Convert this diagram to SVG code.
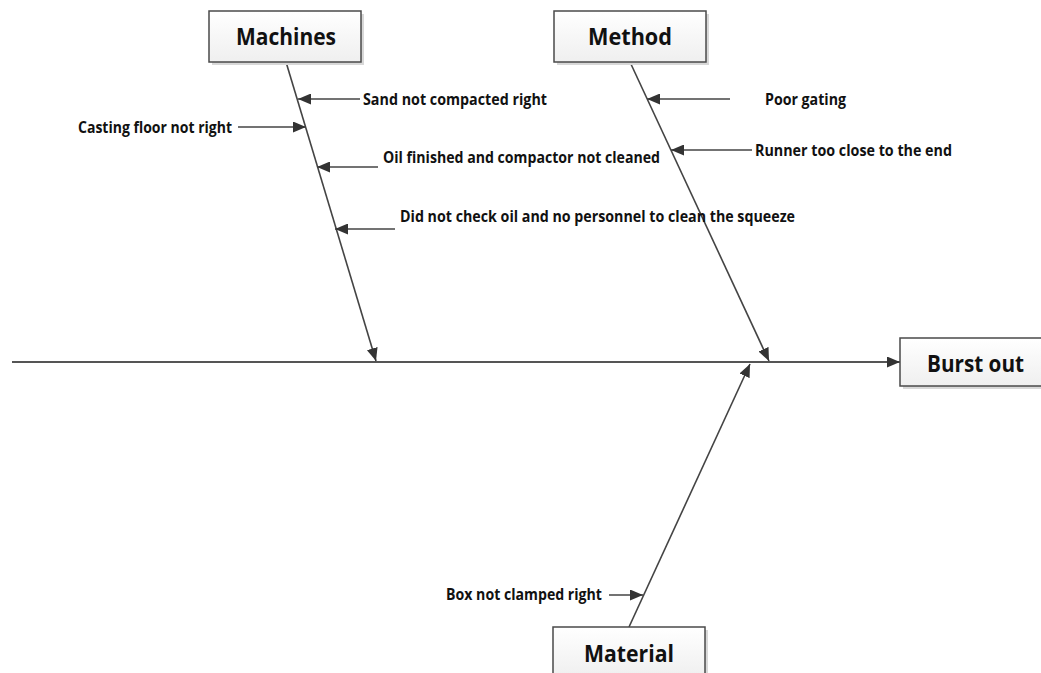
<svg xmlns="http://www.w3.org/2000/svg" width="1041" height="673" viewBox="0 0 1041 673">
  <style>
    .box { fill: url(#boxFill); stroke: #4a4a4a; stroke-width: 1.5; }
    .shadow { fill: #d8d8d8; }
    .title { font-family: "Open Sans", "Liberation Sans", sans-serif; font-weight: 700; font-size: 23px; fill: #111; dominant-baseline: central; }
    .cause { font-family: "Open Sans", "Liberation Sans", sans-serif; font-weight: 700; font-size: 15.5px; fill: #111; dominant-baseline: central; }
    .bone { stroke: #444; stroke-width: 1.6; fill: none; }
    .spine { stroke: #555; stroke-width: 2.2; fill: none; }
    .tick { stroke: #444; stroke-width: 1.6; fill: none; }
  </style>
  <defs>
    <linearGradient id="boxFill" x1="0" y1="0" x2="0" y2="1">
      <stop offset="0" stop-color="#ffffff"/>
      <stop offset="1" stop-color="#efefef"/>
    </linearGradient>
    <marker id="arrow" viewBox="0 0 13 11" refX="13" refY="5.5" markerWidth="13" markerHeight="11" markerUnits="userSpaceOnUse" orient="auto">
      <path d="M0,0 L13,5.5 L0,11 Z" fill="#333"/>
    </marker>
  </defs>

  <rect width="1041" height="673" fill="#ffffff"/>

  <!-- connectors: spine, main bones and cause arrows -->
  <g id="connectors">
    <line class="spine" x1="12" y1="362" x2="900" y2="362" marker-end="url(#arrow)"/>
    <line class="bone" x1="286" y1="62" x2="376" y2="361" marker-end="url(#arrow)"/>
    <line class="bone" x1="630" y1="62" x2="769" y2="361" marker-end="url(#arrow)"/>
    <line class="bone" x1="629" y1="627" x2="750" y2="364" marker-end="url(#arrow)"/>

    <line class="tick" x1="360" y1="99" x2="298" y2="99" marker-end="url(#arrow)"/>
    <line class="tick" x1="238" y1="127" x2="306" y2="127" marker-end="url(#arrow)"/>
    <line class="tick" x1="378" y1="167" x2="317" y2="167" marker-end="url(#arrow)"/>
    <line class="tick" x1="395" y1="229" x2="335" y2="229" marker-end="url(#arrow)"/>

    <line class="tick" x1="730" y1="99" x2="647" y2="99" marker-end="url(#arrow)"/>
    <line class="tick" x1="752" y1="150" x2="671" y2="150" marker-end="url(#arrow)"/>

    <line class="tick" x1="609" y1="595" x2="643" y2="595" marker-end="url(#arrow)"/>
  </g>

  <!-- category boxes -->
  <g id="machines">
    <rect class="shadow" x="212" y="14" width="152" height="51"/>
    <rect class="box" x="209" y="11" width="152" height="51"/>
    <text class="title" x="236" y="36" textLength="100" lengthAdjust="spacingAndGlyphs">Machines</text>
  </g>
  <g id="method">
    <rect class="shadow" x="557" y="14" width="152" height="51"/>
    <rect class="box" x="554" y="11" width="152" height="51"/>
    <text class="title" x="588" y="36" textLength="84" lengthAdjust="spacingAndGlyphs">Method</text>
  </g>
  <g id="material">
    <rect class="shadow" x="556" y="630" width="152" height="51"/>
    <rect class="box" x="553" y="627" width="152" height="51"/>
    <text class="title" x="584" y="653" textLength="90" lengthAdjust="spacingAndGlyphs">Material</text>
  </g>
  <g id="burst-out">
    <rect class="shadow" x="903" y="341" width="152" height="48"/>
    <rect class="box" x="900" y="338" width="152" height="48"/>
    <text class="title" x="927" y="363" textLength="97" lengthAdjust="spacingAndGlyphs">Burst out</text>
  </g>

  <!-- cause labels -->
  <g id="cause-sand">
    <text class="cause" x="363" y="99" textLength="184" lengthAdjust="spacingAndGlyphs">Sand not compacted right</text>
  </g>
  <g id="cause-floor">
    <text class="cause" x="78" y="127" textLength="154" lengthAdjust="spacingAndGlyphs">Casting floor not right</text>
  </g>
  <g id="cause-oil">
    <text class="cause" x="383" y="157" textLength="277" lengthAdjust="spacingAndGlyphs">Oil finished and compactor not cleaned</text>
  </g>
  <g id="cause-check">
    <text class="cause" x="400" y="216" textLength="395" lengthAdjust="spacingAndGlyphs">Did not check oil and no personnel to clean the squeeze</text>
  </g>
  <g id="cause-gating">
    <text class="cause" x="765" y="99" textLength="81" lengthAdjust="spacingAndGlyphs">Poor gating</text>
  </g>
  <g id="cause-runner">
    <text class="cause" x="755" y="150" textLength="197" lengthAdjust="spacingAndGlyphs">Runner too close to the end</text>
  </g>
  <g id="cause-box">
    <text class="cause" x="446" y="594" textLength="156" lengthAdjust="spacingAndGlyphs">Box not clamped right</text>
  </g>
</svg>
